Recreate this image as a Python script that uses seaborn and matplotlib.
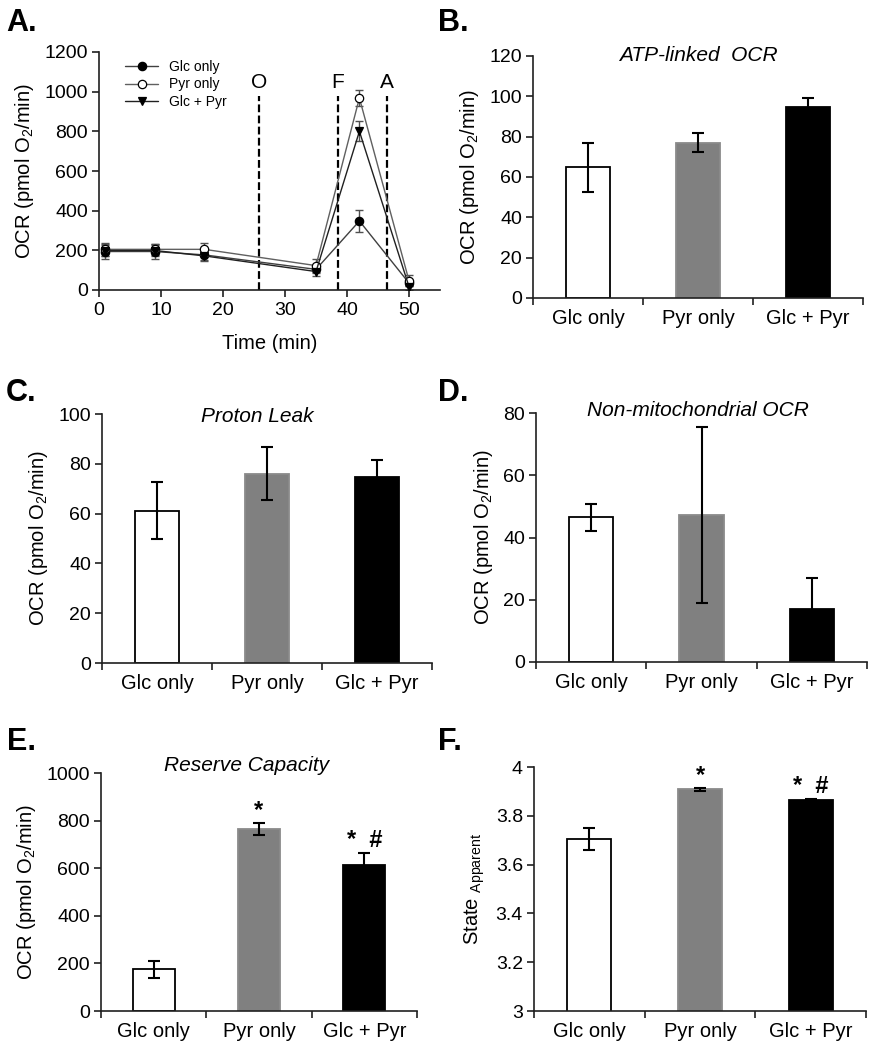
import matplotlib
matplotlib.use('Agg')
import matplotlib.pyplot as plt
import seaborn as sns
import pandas as pd

# ─── Data ────────────────────────────────────────────────────────────────────

time_min = [1, 9, 17, 35, 42, 50]
glc_only = [194, 194, 177, 104, 348, 35]
glc_only_err = [38, 38, 28, 20, 57, 15]
pyr_only = [205, 205, 205, 123, 968, 47]
pyr_only_err = [32, 28, 30, 32, 38, 28]
glc_pyr = [199, 199, 172, 93, 800, 17]
glc_pyr_err = [30, 30, 25, 20, 50, 15]

injection_times = [25.8, 38.5, 46.5]
injection_labels = ['O', 'F', 'A']

groups = ['Glc only', 'Pyr only', 'Glc + Pyr']
atp_linked = [64.8, 77.0, 94.5]
atp_linked_err = [12.0, 4.8, 4.5]
proton_leak = [61.1, 76.1, 74.8]
proton_leak_err = [11.5, 10.7, 6.7]
non_mito = [46.5, 47.1, 16.9]
non_mito_err = [4.4, 28.3, 10.0]
reserve_cap = [175, 764, 614]
reserve_cap_err = [37, 26, 48]
state_app = [3.705, 3.908, 3.866]
state_app_err = [0.044, 0.005, 0.004]
sig_marks = ['', '*', '*  #']

# ─── Style ───────────────────────────────────────────────────────────────────

sns.set_style('ticks')
plt.rcParams['font.family'] = ['Liberation Sans', 'DejaVu Sans']
plt.rcParams['mathtext.fontset'] = 'custom'
plt.rcParams['mathtext.rm'] = 'Liberation Sans'
plt.rcParams['mathtext.it'] = 'Liberation Sans:italic'
plt.rcParams['axes.edgecolor'] = '#202020'
plt.rcParams['axes.linewidth'] = 1.2
for key in ('text.color', 'axes.labelcolor', 'xtick.labelcolor', 'ytick.labelcolor'):
    plt.rcParams[key] = 'black'

bar_colors = ['white', '#808080', 'black']
bar_edges = ['black', '#8a8a8a', 'black']
OCR_LABEL = 'OCR (pmol O$_2$/min)'
TICK_FS = 14
LABEL_FS = 14.5

fig = plt.figure(figsize=(8.71, 10.5), dpi=100)


def fig_axes(left, top, right, bottom):
    # posisi dalam pixel gambar 871x1050
    W, H = 871, 1050
    return fig.add_axes([left / W, 1 - bottom / H, (right - left) / W, (bottom - top) / H])


def style_axes(ax):
    sns.despine(ax=ax)
    ax.tick_params(axis='both', which='both', direction='out', color='#202020',
                   width=1.2, labelsize=TICK_FS)
    ax.tick_params(axis='y', length=5, pad=3)


def bar_panel(ax, values, errors, title, title_xy, ylim, yticks, ylabel,
              marks=None, mark_pad=9, yfmt='{:g}'):
    df = pd.DataFrame({'group': groups, 'value': values})
    sns.barplot(data=df, x='group', y='value', hue='group', palette=bar_colors,
                saturation=1, width=0.4, errorbar=None, legend=False,
                linewidth=1.3, ax=ax)
    for patch, ec in zip(ax.patches, bar_edges):
        patch.set_edgecolor(ec)
    ax.errorbar(range(len(groups)), values, yerr=errors, fmt='none',
                ecolor='black', elinewidth=1.5, capsize=4, capthick=1.5, zorder=3)

    ax.set_xlim(-0.5, len(groups) - 0.5)
    ax.set_ylim(*ylim)
    ax.set_yticks(yticks)
    ax.set_yticklabels([yfmt.format(t) for t in yticks])
    ax.set_xticks(range(len(groups)))
    ax.set_xticks([i - 0.5 for i in range(len(groups) + 1)], minor=True)
    ax.set_xlabel('')
    ax.set_ylabel(ylabel, fontsize=LABEL_FS, labelpad=6)
    style_axes(ax)
    ax.tick_params(axis='x', which='major', length=0, pad=8, labelsize=14.5)
    ax.tick_params(axis='x', which='minor', length=5)

    ax.text(title_xy[0], title_xy[1], title, transform=ax.transAxes,
            ha='center', va='center', style='italic', fontsize=15)

    if marks:
        for i, m in enumerate(marks):
            if m:
                ax.annotate(m, (i, values[i] + errors[i]), xytext=(0, mark_pad),
                            textcoords='offset points', ha='center', va='center',
                            fontsize=17, fontweight='bold')


# ─── A. Kinetik OCR ──────────────────────────────────────────────────────────

axA = fig_axes(99, 52, 440, 290)
series = [
    ('Glc only', glc_only, glc_only_err, 'o', 'black', '#404040'),
    ('Pyr only', pyr_only, pyr_only_err, 'o', 'white', '#606060'),
    ('Glc + Pyr', glc_pyr, glc_pyr_err, 'v', 'black', '#202020'),
]
for name, vals, err, mk, mfc, lc in series:
    axA.errorbar(time_min, vals, yerr=err, fmt='none', ecolor='#505050',
                 elinewidth=1, capsize=3, capthick=1, zorder=2)
    sns.lineplot(x=time_min, y=vals, ax=axA, color=lc, lw=1, marker=mk,
                 markersize=6, markerfacecolor=mfc, markeredgecolor='black',
                 markeredgewidth=0.9, errorbar=None, label=name, zorder=3)

axA.vlines(injection_times, 0, 980, colors='black', linestyles=(0, (3.5, 1.5)), lw=1.6)
for t, lab in zip(injection_times, injection_labels):
    axA.text(t, 1045, lab, ha='center', va='center', fontsize=15)

axA.set_xlim(0, 55)
axA.set_ylim(0, 1200)
axA.set_xticks(range(0, 51, 10))
axA.set_yticks(range(0, 1201, 200))
axA.set_xlabel('Time (min)', fontsize=LABEL_FS, labelpad=11)
axA.set_ylabel(OCR_LABEL, fontsize=LABEL_FS, labelpad=6)
style_axes(axA)
axA.tick_params(axis='x', length=5)
axA.legend(loc='upper left', bbox_to_anchor=(0.06, 0.99), frameon=False,
           fontsize=10, handlelength=2.4, handletextpad=0.8, labelspacing=0.25,
           borderaxespad=0)

# ─── B–F. Bar panels ─────────────────────────────────────────────────────────

axB = fig_axes(533, 56, 863, 298)
bar_panel(axB, atp_linked, atp_linked_err, 'ATP-linked  OCR', (0.5, 1.0),
          (0, 120), range(0, 121, 20), OCR_LABEL)

axC = fig_axes(102, 414, 432, 663)
bar_panel(axC, proton_leak, proton_leak_err, 'Proton Leak', (0.47, 0.99),
          (0, 100), range(0, 101, 20), OCR_LABEL)

axD = fig_axes(536, 413, 867, 662)
bar_panel(axD, non_mito, non_mito_err, 'Non-mitochondrial OCR', (0.49, 1.01),
          (0, 80), range(0, 81, 20), OCR_LABEL)

axE = fig_axes(101, 773, 417, 1011)
bar_panel(axE, reserve_cap, reserve_cap_err, 'Reserve Capacity', (0.46, 1.03),
          (0, 1000), range(0, 1001, 200), OCR_LABEL, marks=sig_marks)

axF = fig_axes(534, 767, 866, 1011)
bar_panel(axF, state_app, state_app_err, '', (0.5, 1.0),
          (3, 4), [3, 3.2, 3.4, 3.6, 3.8, 4], r'State $_{\mathrm{Apparent}}$',
          marks=sig_marks)

# ─── Panel letters ───────────────────────────────────────────────────────────

for lab, x, y in [('A.', 6, 23), ('B.', 438, 23), ('C.', 6, 393),
                  ('D.', 438, 393), ('E.', 7, 742), ('F.', 438, 742)]:
    fig.text(x / 871, 1 - y / 1050, lab, ha='left', va='center',
             fontsize=22, fontweight='bold')

fig.savefig('out.png', dpi=100)
